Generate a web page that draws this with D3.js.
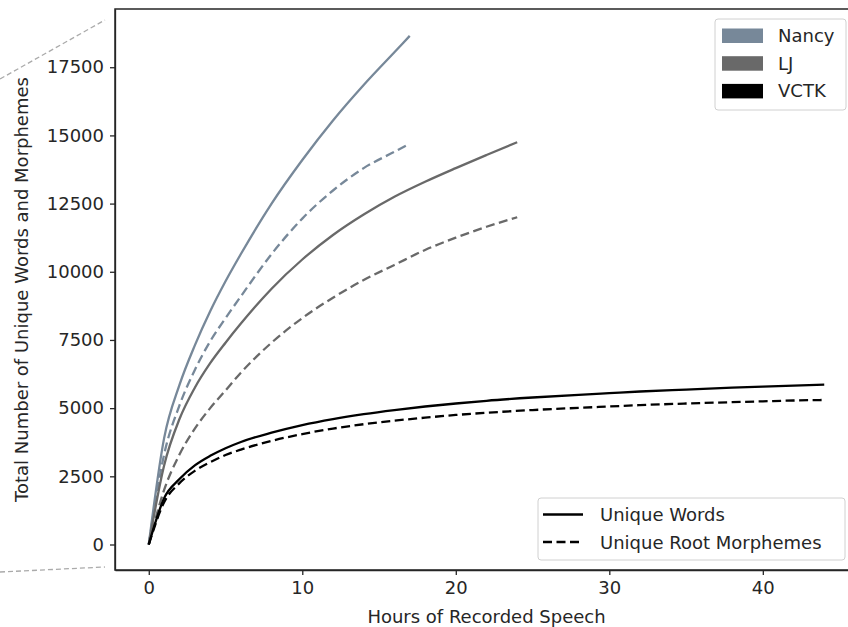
<!DOCTYPE html>
<html>
<head>
<meta charset="utf-8">
<script src="https://cdn.jsdelivr.net/npm/d3@7"></script>
<style>
  body { margin: 0; background: #fff; }
  svg { display: block; font-family: "DejaVu Sans", sans-serif; }
  .axis text { font-size: 18px; fill: #262626; font-family: "DejaVu Sans", sans-serif; }
  .axis path, .axis line { stroke: #262626; stroke-width: 1.3; }
</style>
</head>
<body>
<svg width="848" height="627"></svg>
<script>
// hours of recorded speech (x) per corpus
var hoursNancy = [0, 1, 2, 3, 4, 5, 6, 8, 10, 12, 14, 16, 17];
var nancyWords = [0, 3900, 5850, 7300, 8550, 9650, 10650, 12500, 14100, 15550, 16850, 18050, 18650];
var nancyMorph = [0, 3300, 5100, 6400, 7450, 8300, 9100, 10650, 11950, 12980, 13800, 14400, 14700];

var hoursLJ = [0, 1, 2, 3, 4, 5, 6, 8, 10, 12, 14, 16, 18, 20, 22, 24];
var ljWords = [0, 2900, 4600, 5750, 6650, 7400, 8100, 9380, 10450, 11350, 12100, 12750, 13300, 13800, 14280, 14750];
var ljMorph = [0, 2000, 3300, 4250, 5000, 5650, 6300, 7400, 8300, 9050, 9700, 10250, 10800, 11250, 11650, 12000];

var hoursVCTK = [0, 1, 2, 3, 4, 5, 6, 8, 10, 12, 14, 16, 18, 20, 22, 25, 28, 30, 32, 35, 38, 40, 42, 44];
var vctkWords = [0, 1700, 2400, 2900, 3250, 3530, 3760, 4100, 4380, 4600, 4780, 4930, 5060, 5170, 5270, 5390, 5490, 5550, 5610, 5680, 5750, 5790, 5825, 5860];
var vctkMorph = [0, 1550, 2250, 2700, 3020, 3280, 3480, 3800, 4050, 4250, 4410, 4540, 4650, 4750, 4830, 4930, 5010, 5060, 5110, 5170, 5220, 5250, 5280, 5300];

var corpora = ["Nancy", "LJ", "VCTK"];
var corpusColors = ["#778899", "#696969", "#000000"];
var styleNames = ["Unique Words", "Unique Root Morphemes"];

var xTicks = [0, 10, 20, 30, 40];
var yTicks = [0, 2500, 5000, 7500, 10000, 12500, 15000, 17500];

var svg = d3.select("svg"),
    plotLeft = 115, plotRight = 858, plotTop = 9, plotBottom = 570;

var x = d3.scaleLinear().domain([-2.2, 46.2]).range([plotLeft, plotRight]),
    y = d3.scaleLinear().domain([-935, 19635]).range([plotBottom, plotTop]);

// dashed zoom connectors on the left edge
svg.append("line").attr("x1", 0).attr("y1", 79).attr("x2", 105).attr("y2", 20)
    .attr("stroke", "#aaa").attr("stroke-width", 1.3).attr("stroke-dasharray", "5,3");
svg.append("line").attr("x1", 0).attr("y1", 572).attr("x2", 105).attr("y2", 567)
    .attr("stroke", "#aaa").attr("stroke-width", 1.3).attr("stroke-dasharray", "5,3");

svg.append("g")
    .attr("class", "axis")
    .attr("transform", "translate(0," + plotBottom + ")")
    .call(d3.axisBottom(x).tickValues(xTicks).tickSize(5).tickPadding(6).tickSizeOuter(0));

svg.append("g")
    .attr("class", "axis")
    .attr("transform", "translate(" + plotLeft + ",0)")
    .call(d3.axisLeft(y).tickValues(yTicks).tickFormat(d3.format("d")).tickSize(5).tickPadding(6).tickSizeOuter(0));

// frame
svg.append("rect")
    .attr("x", plotLeft).attr("y", plotTop)
    .attr("width", plotRight - plotLeft).attr("height", plotBottom - plotTop)
    .attr("fill", "none").attr("stroke", "#262626").attr("stroke-width", 1.5);

var series = [
  {hours: hoursNancy, values: nancyWords, color: corpusColors[0], dashed: false},
  {hours: hoursNancy, values: nancyMorph, color: corpusColors[0], dashed: true},
  {hours: hoursLJ, values: ljWords, color: corpusColors[1], dashed: false},
  {hours: hoursLJ, values: ljMorph, color: corpusColors[1], dashed: true},
  {hours: hoursVCTK, values: vctkWords, color: corpusColors[2], dashed: false},
  {hours: hoursVCTK, values: vctkMorph, color: corpusColors[2], dashed: true}
];

var line = d3.line()
    .x(function(d){return x(d[0]);})
    .y(function(d){return y(d[1]);})
    .curve(d3.curveMonotoneX);

series.forEach(function(s){
  svg.append("path")
      .attr("d", line(d3.zip(s.hours, s.values)))
      .attr("fill", "none")
      .attr("stroke", s.color)
      .attr("stroke-width", 2.3)
      .attr("stroke-dasharray", s.dashed ? "9,4.5" : null);
});

// axis titles
svg.append("text")
    .attr("x", (plotLeft + plotRight) / 2).attr("y", 623)
    .attr("text-anchor", "middle")
    .attr("font-size", 18).attr("fill", "#262626")
    .text("Hours of Recorded Speech");

svg.append("text")
    .attr("transform", "translate(28," + ((plotTop + plotBottom) / 2) + ") rotate(-90)")
    .attr("text-anchor", "middle")
    .attr("font-size", 18).attr("fill", "#262626")
    .text("Total Number of Unique Words and Morphemes");

// corpus legend
var leg1 = svg.append("g");
leg1.append("rect")
    .attr("x", 715).attr("y", 19).attr("width", 131).attr("height", 91).attr("rx", 3)
    .attr("fill", "#fff").attr("stroke", "#d0d0d0");
corpora.forEach(function(c, i){
  leg1.append("rect")
      .attr("x", 722).attr("y", 28.5 + i * 27.7).attr("width", 41).attr("height", 14.5)
      .attr("fill", corpusColors[i]);
  leg1.append("text")
      .attr("x", 778).attr("y", 42 + i * 27.7)
      .attr("font-size", 18).attr("fill", "#262626")
      .text(c);
});

// line-style legend
var leg2 = svg.append("g");
leg2.append("rect")
    .attr("x", 538).attr("y", 498).attr("width", 307).attr("height", 62).attr("rx", 3)
    .attr("fill", "#fff").attr("stroke", "#d0d0d0");
styleNames.forEach(function(n, i){
  leg2.append("line")
      .attr("x1", 543).attr("x2", 583)
      .attr("y1", 514.5 + i * 27.5).attr("y2", 514.5 + i * 27.5)
      .attr("stroke", "#000").attr("stroke-width", 2.3)
      .attr("stroke-dasharray", i ? "9,4.5" : null);
  leg2.append("text")
      .attr("x", 600).attr("y", 521 + i * 27.5)
      .attr("font-size", 18).attr("fill", "#262626")
      .text(n);
});
</script>
</body>
</html>
